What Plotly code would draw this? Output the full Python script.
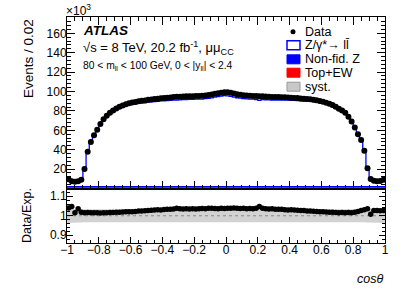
import numpy as np
import plotly.graph_objects as go

# ---------------- data (events in units of 10^3 per 0.02 bin) ----------------
bin_edges = np.round(np.linspace(-1.0, 1.0, 101), 2)

data_k = [
    9.5, 7.5, 7.0, 7.5, 9.0, 20.0, 38.0, 48.0, 55.0, 60.5,
    66.5, 71.5, 75.0, 78.0, 80.5, 82.5, 84.2, 85.6, 86.8, 87.8,
    88.6, 89.3, 89.9, 90.4, 90.8, 91.4, 91.8, 92.2, 92.6, 93.0,
    93.3, 93.6, 93.9, 94.2, 94.5, 94.7, 94.9, 95.0, 95.1, 95.2,
    95.3, 95.4, 95.6, 96.0, 96.5, 97.0, 97.6, 98.2, 98.8, 99.3,
    99.2, 98.6, 97.9, 97.2, 96.6, 96.2, 95.8, 95.6, 95.4, 95.3,
    95.2, 95.0, 94.8, 94.6, 94.4, 94.3, 94.2, 94.1, 94.0, 93.8,
    93.6, 93.4, 93.2, 92.9, 92.6, 92.3, 92.0, 91.6, 91.0, 90.3,
    89.5, 88.5, 87.4, 86.0, 84.3, 82.3, 80.3, 78.0, 74.0, 69.0,
    63.0, 56.0, 50.0, 39.0, 21.0, 9.7, 8.0, 7.5, 7.7, 9.0,
]

ratio = [
    1.040, 1.048, 1.016, 1.036, 1.018, 1.016, 1.017, 1.015, 1.016, 1.015,
    1.014, 1.016, 1.016, 1.017, 1.017, 1.018, 1.018, 1.019, 1.020, 1.020,
    1.021, 1.022, 1.024, 1.025, 1.026, 1.027, 1.028, 1.030, 1.031, 1.030,
    1.032, 1.034, 1.033, 1.035, 1.038, 1.036, 1.035, 1.036, 1.035, 1.036,
    1.035, 1.036, 1.037, 1.036, 1.038, 1.039, 1.037, 1.036, 1.038, 1.037,
    1.039, 1.038, 1.040, 1.039, 1.037, 1.038, 1.036, 1.037, 1.036, 1.039,
    1.047, 1.038, 1.036, 1.035, 1.036, 1.034, 1.033, 1.033, 1.031, 1.030,
    1.031, 1.029, 1.028, 1.027, 1.027, 1.025, 1.024, 1.023, 1.022, 1.021,
    1.020, 1.019, 1.018, 1.018, 1.017, 1.016, 1.017, 1.016, 1.017, 1.016,
    1.018, 1.022, 1.027, 1.031, 1.036, 1.008, 1.027, 1.027, 1.026, 1.027,
]

syst = [
    0.037, 0.036, 0.036, 0.035, 0.035, 0.034, 0.034, 0.034, 0.033, 0.033,
    0.033, 0.033, 0.033, 0.033, 0.033, 0.033, 0.033, 0.033, 0.033, 0.033,
    0.033, 0.033, 0.033, 0.033, 0.033, 0.033, 0.033, 0.033, 0.033, 0.033,
    0.033, 0.033, 0.033, 0.033, 0.033, 0.033, 0.033, 0.033, 0.033, 0.033,
    0.033, 0.033, 0.033, 0.033, 0.033, 0.033, 0.033, 0.033, 0.033, 0.033,
    0.033, 0.033, 0.033, 0.033, 0.033, 0.033, 0.033, 0.033, 0.033, 0.033,
    0.033, 0.033, 0.033, 0.033, 0.033, 0.033, 0.033, 0.033, 0.033, 0.033,
    0.033, 0.033, 0.033, 0.033, 0.033, 0.033, 0.033, 0.033, 0.033, 0.033,
    0.033, 0.033, 0.033, 0.033, 0.033, 0.033, 0.033, 0.033, 0.033, 0.033,
    0.033, 0.034, 0.034, 0.034, 0.035, 0.035, 0.036, 0.036, 0.036, 0.037,
]

top_ew_k = [
    1.6, 1.6, 1.6, 1.6, 1.6, 1.6, 1.6, 1.6, 1.6, 1.6,
    1.6, 1.6, 1.6, 1.6, 1.6, 1.6, 1.6, 1.6, 1.6, 1.6,
    1.6, 1.6, 1.6, 1.6, 1.6, 1.6, 1.6, 1.6, 1.6, 1.6,
    1.6, 1.6, 1.6, 1.6, 1.6, 1.6, 1.6, 1.6, 1.6, 1.6,
    1.6, 1.6, 1.6, 1.6, 1.6, 1.6, 1.6, 1.6, 1.6, 1.6,
    1.6, 1.6, 1.6, 1.6, 1.6, 1.6, 1.6, 1.6, 1.6, 1.6,
    1.6, 1.6, 1.6, 1.6, 1.6, 1.6, 1.6, 1.6, 1.6, 1.6,
    1.6, 1.6, 1.6, 1.6, 1.6, 1.6, 1.6, 1.6, 1.6, 1.6,
    1.6, 1.6, 1.6, 1.6, 1.6, 1.6, 1.6, 1.6, 1.6, 1.6,
    1.6, 1.6, 1.6, 1.6, 1.6, 1.6, 1.6, 1.6, 1.6, 1.6,
]

nonfid_k = [
    1.1, 1.1, 1.1, 1.1, 1.1, 1.1, 1.1, 1.1, 1.1, 1.1,
    1.1, 1.1, 1.1, 1.1, 1.1, 1.1, 1.1, 1.1, 1.1, 1.1,
    1.1, 1.1, 1.1, 1.1, 1.1, 1.1, 1.1, 1.1, 1.1, 1.1,
    1.1, 1.1, 1.1, 1.1, 1.1, 1.1, 1.1, 1.1, 1.1, 1.1,
    1.1, 1.1, 1.1, 1.1, 1.1, 1.1, 1.1, 1.1, 1.1, 1.1,
    1.1, 1.1, 1.1, 1.1, 1.1, 1.1, 1.1, 1.1, 1.1, 1.1,
    1.1, 1.1, 1.1, 1.1, 1.1, 1.1, 1.1, 1.1, 1.1, 1.1,
    1.1, 1.1, 1.1, 1.1, 1.1, 1.1, 1.1, 1.1, 1.1, 1.1,
    1.1, 1.1, 1.1, 1.1, 1.1, 1.1, 1.1, 1.1, 1.1, 1.1,
    1.1, 1.1, 1.1, 1.1, 1.1, 1.1, 1.1, 1.1, 1.1, 1.1,
]

x_tick_vals = [-1, -0.8, -0.6, -0.4, -0.2, 0, 0.2, 0.4, 0.6, 0.8, 1]
x_tick_text = ["\u22121", "\u22120.8", "\u22120.6", "\u22120.4", "\u22120.2", "0",
               "0.2", "0.4", "0.6", "0.8", "1"]
y_tick_vals = [20, 40, 60, 80, 100, 120, 140, 160]
r_tick_vals = [0.9, 1.0, 1.1]
r_tick_text = ["0.9", "1", "1.1"]

# ---------------- derived ----------------
centers = 0.5 * (bin_edges[:-1] + bin_edges[1:])
data = np.array(data_k)
rat = np.array(ratio)
mc_total = data / rat
top_ew = np.array(top_ew_k)
nonfid = np.array(nonfid_k)
syst_a = np.array(syst)


def step(vals):
    v = list(vals)
    return list(bin_edges), v + [v[-1]]


FONT = "Liberation Sans, Arial, sans-serif"
W, H = 407, 292
L, R, T, B = 67, 22, 17, 49
PW, PH = W - L - R, H - T - B
split = 54.5 / PH


def px(x):
    # window pixel -> paper
    return (x - L) / PW


def py(y):
    return (H - B - y) / PH


fig = go.Figure()

# Top+EW (red) filled from 0
xs, ys = step(top_ew)
fig.add_trace(go.Scatter(x=xs, y=[0] * len(xs), mode="lines", line=dict(width=0, shape="hv"),
                         showlegend=False, hoverinfo="skip", xaxis="x", yaxis="y"))
fig.add_trace(go.Scatter(x=xs, y=ys, mode="lines", line=dict(width=0, shape="hv", color="#ff0000"),
                         fill="tonexty", fillcolor="#ff0000", showlegend=False, xaxis="x", yaxis="y"))
# Non-fid Z (blue) stacked on Top+EW
xs2, ys2 = step(top_ew + nonfid)
fig.add_trace(go.Scatter(x=xs2, y=ys2, mode="lines", line=dict(width=0, shape="hv", color="#0000ff"),
                         fill="tonexty", fillcolor="#0000ff", showlegend=False, xaxis="x", yaxis="y"))
# Z/gamma* -> ll outline (total prediction)
xs3, ys3 = step(mc_total)
fig.add_trace(go.Scatter(x=xs3, y=ys3, mode="lines", line=dict(width=1.3, shape="hv", color="#0000ff"),
                         showlegend=False, xaxis="x", yaxis="y"))
# Data
fig.add_trace(go.Scatter(x=centers, y=data, mode="markers",
                         marker=dict(color="black", size=6), showlegend=False, xaxis="x", yaxis="y"))

# Ratio panel: syst band
xb, yb_lo = step(1 - syst_a)
_, yb_hi = step(1 + syst_a)
fig.add_trace(go.Scatter(x=xb, y=yb_lo, mode="lines", line=dict(width=0, shape="hv"),
                         showlegend=False, hoverinfo="skip", xaxis="x2", yaxis="y2"))
fig.add_trace(go.Scatter(x=xb, y=yb_hi, mode="lines", line=dict(width=0, shape="hv"),
                         fill="tonexty", fillcolor="#d2d2d2", showlegend=False, xaxis="x2", yaxis="y2"))
fig.add_trace(go.Scatter(x=[-1, 1], y=[1, 1], mode="lines",
                         line=dict(color="#888888", width=1, dash="dot"),
                         showlegend=False, xaxis="x2", yaxis="y2"))
fig.add_trace(go.Scatter(x=centers, y=rat, mode="markers",
                         marker=dict(color="black", size=5.5), showlegend=False, xaxis="x2", yaxis="y2"))

axis_common = dict(showline=True, linecolor="black", linewidth=1, showgrid=False, zeroline=False,
                   tickcolor="black", tickfont=dict(family=FONT, size=12, color="black"))

fig.update_layout(
    width=W, height=H,
    margin=dict(l=L, r=R, t=T, b=B),
    paper_bgcolor="white", plot_bgcolor="white",
    showlegend=False,
    xaxis=dict(domain=[0, 1], anchor="y", range=[-1, 1], ticks="inside", ticklen=8,
               tickvals=x_tick_vals, showticklabels=False, mirror="ticks",
               minor=dict(ticks="inside", ticklen=4, dtick=0.05, tick0=-1, tickcolor="black"),
               **axis_common),
    yaxis=dict(domain=[split, 1], anchor="x", range=[0, 176.8], ticks="inside", ticklen=8,
               tickvals=y_tick_vals, mirror="ticks", ticklabelstandoff=-3,
               minor=dict(ticks="inside", ticklen=4, dtick=4, tick0=0, tickcolor="black"),
               **axis_common),
    xaxis2=dict(domain=[0, 1], anchor="y2", range=[-1, 1], ticks="inside", ticklen=6,
                tickvals=x_tick_vals, ticktext=x_tick_text, mirror=True, matches="x",
                ticklabelstandoff=-4,
                minor=dict(ticks="inside", ticklen=3, dtick=0.05, tick0=-1, tickcolor="black"),
                **axis_common),
    yaxis2=dict(domain=[0, split], anchor="x2", range=[0.86, 1.14], ticks="inside", ticklen=6,
                tickvals=r_tick_vals, ticktext=r_tick_text, mirror="ticks", ticklabelstandoff=-3,
                minor=dict(ticks="inside", ticklen=3, dtick=0.02, tick0=0.86, tickcolor="black"),
                **axis_common),
)

ann = []
def text(x, y, s, size, xanchor="left", yanchor="middle", angle=0, color="black"):
    ann.append(dict(x=px(x), y=py(y), xref="paper", yref="paper", text=s, showarrow=False,
                    xanchor=xanchor, yanchor=yanchor, textangle=angle,
                    font=dict(family=FONT, size=size, color=color)))

text(64, 10, "\u00d710<sup>3</sup>", 12)
text(29, 59, "Events / 0.02", 13.5, xanchor="center", angle=-90)
text(27, 216, "Data/Exp.", 12.5, xanchor="center", angle=-90)
text(385, 279, "<i>cos\u03b8</i>", 12.5, xanchor="right")
text(81, 31, "<b><i>ATLAS</i></b>", 13.5)
text(81, 48, "\u221as = 8 TeV, 20.2 fb<sup>-1</sup>, \u03bc\u03bc<sub>CC</sub>", 13)
text(81, 66, "80 &lt; m<sub>ll</sub> &lt; 100 GeV, 0 &lt; |y<sub>ll</sub>| &lt; 2.4", 10.3)

legend_rows = [
    ("Data", 31.7, 12.5),
    ("Z/\u03b3*\u2192 ll\u0304", 45.3, 12.5),
    ("Non-fid. Z", 59.3, 12.5),
    ("Top+EW", 72.7, 12.5),
    ("syst.", 86.7, 12.5),
]
for label, yc, fs in legend_rows:
    text(303, yc, label, fs)

shapes = []
# data marker
shapes.append(dict(type="circle", xref="paper", yref="paper", x0=px(290.5), x1=px(295.5),
                   y0=py(34.2), y1=py(29.2), fillcolor="black", line=dict(color="black", width=0)))
box_styles = [
    (45.3, "white", "#0000ff", 1.5),
    (59.3, "#0000ff", "#0000ff", 1),
    (72.7, "#ff0000", "#ff0000", 1),
    (86.7, "#c8c8c8", "#999999", 1),
]
for yc, fc, lc, lw in box_styles:
    shapes.append(dict(type="rect", xref="paper", yref="paper", x0=px(287), x1=px(300),
                       y0=py(yc + 4.5), y1=py(yc - 4.5), fillcolor=fc, line=dict(color=lc, width=lw)))

fig.update_layout(annotations=ann, shapes=shapes)
fig.write_html(
    "out.html",
    config={"displayModeBar": False},
    post_script="document.body.style.margin='0px';document.body.style.overflow='hidden';"
                "document.documentElement.style.overflow='hidden';",
)
